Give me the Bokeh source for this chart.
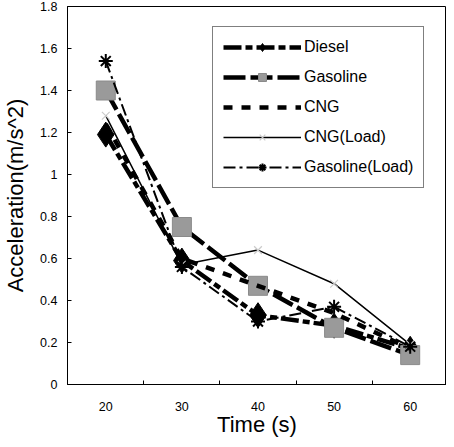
from bokeh.plotting import figure
from bokeh.models import FixedTicker, Range1d, Legend
from bokeh.embed import file_html
from bokeh.resources import INLINE

time_s = [20, 30, 40, 50, 60]
diesel = [1.19, 0.59, 0.33, 0.28, 0.17]
gasoline = [1.40, 0.75, 0.47, 0.27, 0.14]
cng = [1.24, 0.60, 0.47, 0.34, 0.17]
cng_load = [1.28, 0.57, 0.64, 0.48, 0.19]
gasoline_load = [1.54, 0.56, 0.30, 0.37, 0.18]

y_ticks = [0, 0.2, 0.4, 0.6, 0.8, 1.0, 1.2, 1.4, 1.6, 1.8]
y_tick_labels = ["0", "0.2", "0.4", "0.6", "0.8", "1", "1.2", "1.4", "1.6", "1.8"]
x_minor_ticks = [25, 35, 45, 55]
x_title = "Time (s)"
y_title = "Acceleration(m/s^2)"

FONT = "Liberation Sans"

p = figure(width=446, height=439, output_backend="svg", toolbar_location=None,
           x_range=Range1d(14.97, 64.77), y_range=Range1d(0, 1.8),
           min_border_left=59, min_border_right=0, min_border_top=6, min_border_bottom=40)
p.grid.visible = False
p.outline_line_color = "black"
p.outline_line_width = 1
p.background_fill_color = "white"
p.border_fill_color = "white"

# axes
p.xaxis.ticker = FixedTicker(ticks=time_s, minor_ticks=x_minor_ticks)
p.xaxis.major_tick_line_color = None
p.xaxis.major_tick_in = 0
p.xaxis.major_tick_out = 0
p.xaxis.minor_tick_in = 4
p.xaxis.minor_tick_out = 0
p.xaxis.minor_tick_line_color = "black"
p.xaxis.major_label_standoff = 17
p.xaxis.axis_label = x_title
p.xaxis.axis_label_standoff = -2

p.yaxis.ticker = FixedTicker(ticks=y_ticks, minor_ticks=[])
p.yaxis.major_label_overrides = {t: l for t, l in zip(y_ticks, y_tick_labels)}
p.yaxis.major_tick_in = 4
p.yaxis.major_tick_out = 0
p.yaxis.minor_tick_out = 0
p.yaxis.major_label_standoff = 10
p.yaxis.axis_label = y_title
p.yaxis.axis_label_standoff = 9

for ax in (p.xaxis, p.yaxis):
    ax.axis_line_color = "black"
    ax.axis_line_width = 1
    ax.major_label_text_font = FONT
    ax.major_label_text_font_size = "12.5px"
    ax.major_label_text_color = "black"
    ax.axis_label_text_font = FONT
    ax.axis_label_text_font_size = "22px"
    ax.axis_label_text_font_style = "normal"
    ax.axis_label_text_color = "black"

items = []
# Diesel
r1 = p.line(time_s, diesel, line_color="black", line_width=4.5, line_dash="18 4 7 4")
m1 = p.scatter(time_s, diesel, marker="diamond", size=25, fill_color="black", line_color="black")
items.append(("Diesel", [r1, m1]))
# Gasoline
r2 = p.line(time_s, gasoline, line_color="black", line_width=4.5, line_dash="22 5")
m2 = p.scatter(time_s, gasoline, marker="square", size=19, fill_color="#9a9a9a", line_color="#8a8a8a")
items.append(("Gasoline", [r2, m2]))
# CNG
r3 = p.line(time_s, cng, line_color="black", line_width=4.5, line_dash="9 9")
items.append(("CNG", [r3]))
# CNG(Load)
r4 = p.line(time_s, cng_load, line_color="black", line_width=1.5)
m4 = p.scatter(time_s, cng_load, marker="x", size=11, line_color="#cccccc", line_width=1.2)
items.append(("CNG(Load)", [r4, m4]))
# Gasoline(Load)
r5 = p.line(time_s, gasoline_load, line_color="black", line_width=2, line_dash="12 4 3 4")
m5 = p.scatter(time_s, gasoline_load, marker="asterisk", size=14, line_color="black", line_width=2)
items.append(("Gasoline(Load)", [r5, m5]))

legend = Legend(items=items, location=(145, 196))
legend.border_line_color = "black"
legend.border_line_width = 1
legend.background_fill_alpha = 1
legend.label_text_font = FONT
legend.label_text_font_size = "16px"
legend.label_text_color = "black"
legend.glyph_width = 78
legend.glyph_height = 20
legend.label_height = 20
legend.spacing = 10
legend.padding = 10
legend.margin = 0
legend.label_standoff = 3
p.add_layout(legend, "center")

open("out.html", "w").write(file_html(p, INLINE))
